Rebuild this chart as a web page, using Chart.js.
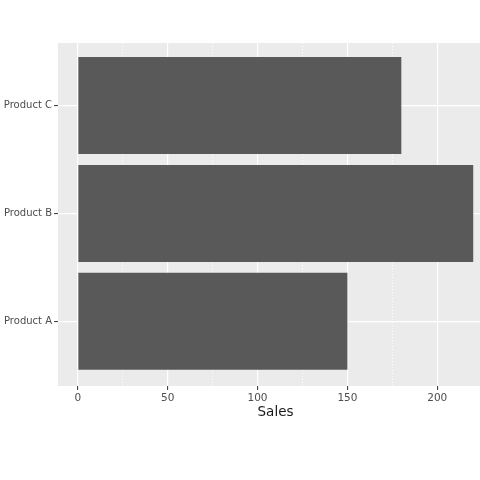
<!DOCTYPE html>
<html>
<head>
<meta charset="utf-8">
<script src="https://cdn.jsdelivr.net/npm/chart.js@4.4.0/dist/chart.umd.min.js"></script>
<style>
    html, body { margin: 0; padding: 0; background: #ffffff; overflow: hidden; }
    #wrap { width: 480px; height: 480px; overflow: hidden; }
</style>
</head>
<body>
<div id="wrap"><canvas id="grafico" width="493" height="480"></canvas></div>
<script>
const categorias = ['Product A', 'Product B', 'Product C'];
const vendas = [150, 220, 180];
const ticksX = [0, 50, 100, 150, 200];
const ticksMenores = [25, 75, 125, 175];

const corTexto = '#4D4D4D';
const fonte = 'DejaVu Sans';

// fundo cinza do painel, estilo ggplot
const fundoPainel = {
    id: 'fundoPainel',
    beforeDraw(chart) {
        const { ctx, chartArea } = chart;
        ctx.save();
        ctx.fillStyle = '#EBEBEB';
        ctx.fillRect(chartArea.left, chartArea.top, chartArea.right - chartArea.left, chartArea.bottom - chartArea.top);
        ctx.restore();
    }
};

const ctx = document.getElementById('grafico').getContext('2d');

new Chart(ctx, {
    type: 'bar',
    data: {
        datasets: [{
            label: 'Sales',
            data: vendas.map((v, i) => ({ x: v, y: i + 1 })),
            backgroundColor: '#595959',
            borderWidth: 0,
            categoryPercentage: 1,
            barPercentage: 0.9,
            xAxisID: 'x',
            yAxisID: 'y'
        }]
    },
    options: {
        indexAxis: 'y',
        responsive: false,
        animation: false,
        layout: {
            padding: { top: 43, right: 0, bottom: 59, left: 0 }
        },
        plugins: {
            legend: { display: false },
            tooltip: { enabled: false }
        },
        scales: {
            x: {
                type: 'linear',
                position: 'bottom',
                min: -11,
                max: 231,
                afterBuildTicks: scale => {
                    scale.ticks = ticksX.map(v => ({ value: v }));
                },
                afterFit: scale => { scale.height = 35; },
                grid: {
                    color: '#FFFFFF',
                    lineWidth: 1.2,
                    drawTicks: true,
                    tickLength: 4,
                    tickColor: '#333333',
                    tickWidth: 1
                },
                border: { display: false },
                ticks: {
                    padding: 2,
                    color: corTexto,
                    font: { family: fonte, size: 10.5 },
                    maxRotation: 0
                },
                title: {
                    display: true,
                    text: 'Sales',
                    color: '#1A1A1A',
                    padding: 0,
                    font: { family: fonte, size: 13.5 }
                }
            },
            x2: {
                type: 'linear',
                position: 'bottom',
                min: -11,
                max: 231,
                afterBuildTicks: scale => {
                    scale.ticks = ticksMenores.map(v => ({ value: v }));
                },
                afterFit: scale => { scale.height = 0; },
                grid: {
                    color: '#FFFFFF',
                    lineWidth: 1,
                    drawTicks: false
                },
                border: { display: false, dash: [1, 2] },
                ticks: { display: false }
            },
            y: {
                type: 'linear',
                min: 0.4,
                max: 3.58,
                offset: false,
                afterBuildTicks: scale => {
                    scale.ticks = categorias.map((c, i) => ({ value: i + 1 }));
                },
                afterFit: scale => { scale.width = 58; },
                grid: {
                    offset: false,
                    color: '#FFFFFF',
                    lineWidth: 1.2,
                    drawTicks: true,
                    tickLength: 4,
                    tickColor: '#333333',
                    tickWidth: 1
                },
                border: { display: false },
                ticks: {
                    padding: 2,
                    color: corTexto,
                    font: { family: fonte, size: 10 },
                    callback: value => categorias[value - 1] ?? ''
                }
            }
        }
    },
    plugins: [fundoPainel]
});
</script>
</body>
</html>
